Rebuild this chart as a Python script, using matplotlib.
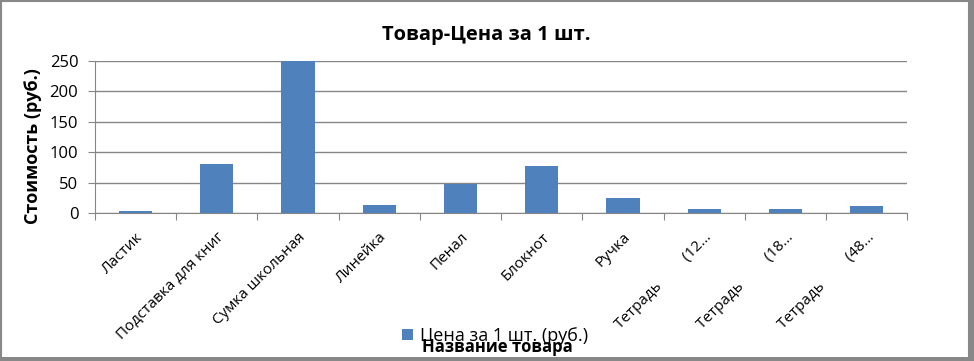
import numpy as np
import matplotlib.pyplot as plt
from matplotlib.patches import Rectangle

plt.rcParams['font.family'] = ['Open Sans', 'DejaVu Sans']

products = ['Ластик', 'Подставка для книг', 'Сумка школьная', 'Линейка', 'Пенал',
            'Блокнот', 'Ручка', 'Тетрадь         (12…', 'Тетрадь         (18…',
            'Тетрадь         (48…']
prices = [4, 80, 250, 13, 47, 77, 25, 7, 7, 12]

BAR_COLOR = '#4F81BD'
GRID_COLOR = '#868686'

fig = plt.figure(figsize=(9.74, 3.61), dpi=100)
ax = fig.add_axes([0.0975, 0.41, 0.834, 0.422])

x = np.arange(len(products))
ax.bar(x, prices, width=0.41, color=BAR_COLOR, zorder=3, label='Цена за 1 шт. (руб.)')

ax.set_xlim(-0.5, len(products) - 0.5)
ax.set_ylim(0, 250)
ax.set_yticks([0, 50, 100, 150, 200, 250])
ax.yaxis.grid(True, color=GRID_COLOR, linewidth=1, zorder=0)
ax.tick_params(axis='y', length=5, color=GRID_COLOR, labelsize=12, pad=7)

# category boundaries get the tick marks, centres get the labels
ax.set_xticks(np.arange(len(products) + 1) - 0.5)
ax.set_xticklabels([])
ax.tick_params(axis='x', which='major', length=5, color=GRID_COLOR)
ax.set_xticks(x, minor=True)
ax.set_xticklabels(products, minor=True, rotation=45, ha='right', va='top',
                   rotation_mode='anchor', fontsize=11)
ax.tick_params(axis='x', which='minor', length=0, pad=12)

for s in ['top', 'right']:
    ax.spines[s].set_visible(False)
ax.spines['left'].set_color(GRID_COLOR)
ax.spines['bottom'].set_color(GRID_COLOR)

fig.text(0.499, 0.903, 'Товар-Цена за 1 шт.', ha='center', va='center',
         fontsize=14.5, fontweight='bold')
fig.text(0.034, 0.596, 'Стоимость (руб.)', ha='center', va='center',
         rotation=90, fontsize=13, fontweight='bold')

fig.legend(loc='center', bbox_to_anchor=(0.508, 0.07), frameon=False,
           fontsize=13, handlelength=0.6, handleheight=0.6, handletextpad=0.4)
fig.text(0.511, 0.038, 'Название товара', ha='center', va='center',
         fontsize=12, fontweight='bold')

# chart frame with heavier right/bottom edge
fig.patches.append(Rectangle((0.001, 0.006), 0.994, 0.991, transform=fig.transFigure,
                             fill=False, edgecolor='#888888', linewidth=1.5))
fig.patches.append(Rectangle((0.996, 0.0), 0.004, 1.0, transform=fig.transFigure,
                             facecolor='#888888', edgecolor='none'))
fig.patches.append(Rectangle((0.0, 0.0), 1.0, 0.011, transform=fig.transFigure,
                             facecolor='#888888', edgecolor='none'))

fig.savefig('out.png', dpi=100)
